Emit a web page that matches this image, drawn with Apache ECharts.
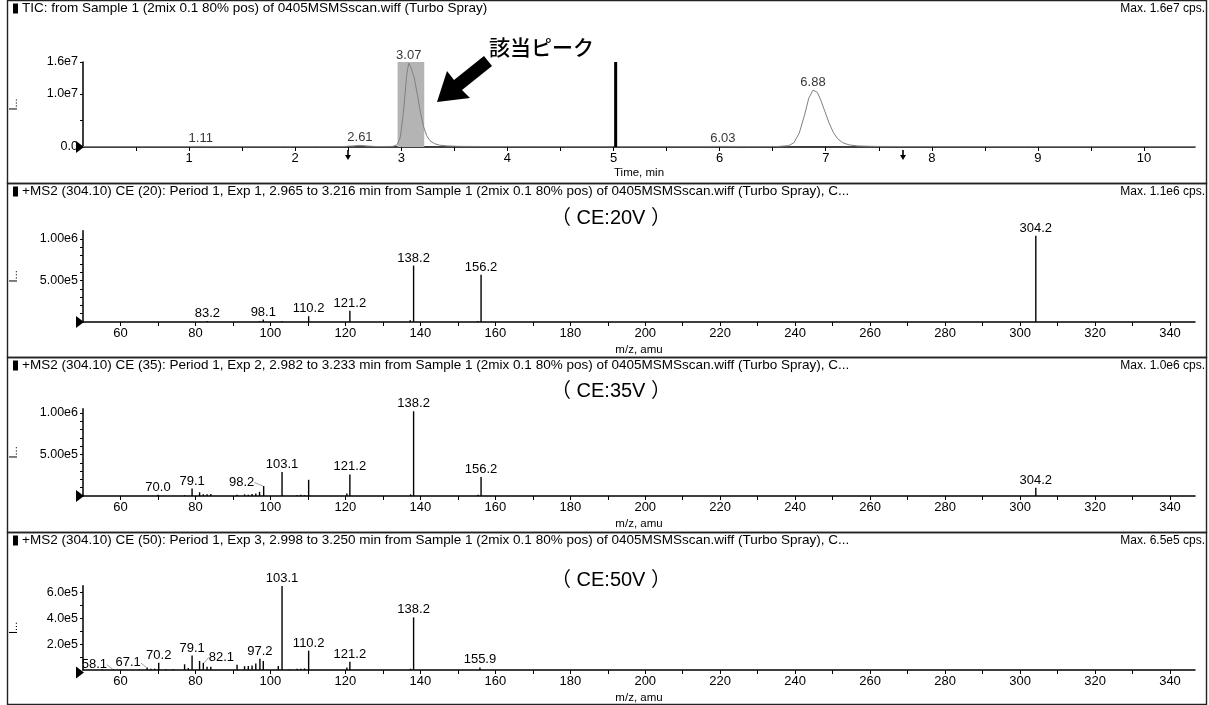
<!DOCTYPE html>
<html lang="ja">
<head>
<meta charset="UTF-8">
<title>TIC / MS2 spectra</title>
<script src="https://cdn.jsdelivr.net/npm/echarts@6/dist/echarts.min.js"></script>
<style>
  html, body { margin: 0; padding: 0; background: #fff; }
  #chart { width: 1209px; height: 705px; }
</style>
</head>
<body>
<div id="chart"></div>
<script>
// --- TIC trace (time in min, intensity in cps) ---
const ticTime = [0.00, 0.30, 0.60, 0.90, 1.11, 1.30, 1.60, 1.90, 2.20, 2.45, 2.55, 2.61, 2.67, 2.75, 2.85, 2.92,
  2.96, 2.99, 3.02, 3.05, 3.07, 3.09, 3.12, 3.15, 3.18, 3.21, 3.24, 3.27, 3.31, 3.36, 3.43, 3.55, 3.80,
  4.20, 4.60, 5.00, 5.40, 5.80, 6.03, 6.30, 6.55, 6.65, 6.70, 6.75, 6.80, 6.84, 6.88, 6.92, 6.95, 6.99,
  7.03, 7.07, 7.11, 7.16, 7.22, 7.30, 7.45, 7.80, 8.30, 8.90, 9.50, 10.10, 10.48];
const ticIntensity = [0.8e5, 0.9e5, 0.8e5, 0.9e5, 1.1e5, 0.9e5, 0.8e5, 0.9e5, 0.8e5, 0.9e5, 2.0e5, 3.2e5, 2.0e5, 1.0e5, 0.9e5, 1.2e5,
  4.0e5, 1.8e6, 6.5e6, 1.35e7, 1.58e7, 1.5e7, 1.32e7, 1.0e7, 6.5e6, 3.8e6, 2.1e6, 1.2e6, 6.5e5, 3.5e5, 2.0e5, 1.2e5, 0.9e5,
  0.8e5, 0.9e5, 0.8e5, 0.8e5, 0.9e5, 1.1e5, 0.9e5, 1.0e5, 2.5e5, 8.0e5, 2.6e6, 6.0e6, 9.2e6, 1.07e7, 1.03e7, 9.0e6, 6.8e6,
  4.6e6, 2.8e6, 1.6e6, 8.0e5, 4.0e5, 2.0e5, 1.1e5, 0.9e5, 0.8e5, 0.9e5, 0.8e5, 0.9e5, 0.8e5];
const ticPeakTimes = [1.11, 2.61, 3.07, 6.03, 6.88];
const ticPeakHeights = [1.1e5, 3.2e5, 1.58e7, 1.1e5, 1.07e7];
const selectedRange = [2.965, 3.216];
const markerTime = 5.02;
const ticMax = 1.6e7;

// --- MS2 spectra (m/z, intensity in cps) ---
const ce20Mz = [83.2, 97.1, 98.1, 103.1, 110.2, 121.2, 137.3, 138.2, 155.3, 156.2, 304.2];
const ce20Int = [1.2e4, 8e3, 3.0e4, 1.0e4, 7.0e4, 1.35e5, 2.0e4, 6.8e5, 1.2e4, 5.7e5, 1.04e6];
const ce20Labels = [83.2, 98.1, 110.2, 121.2, 138.2, 156.2, 304.2];

const ce35Mz = [70.0, 77.1, 79.1, 81.1, 82.1, 83.1, 84.1, 91.1, 93.1, 94.1, 95.1, 96.1, 97.1, 98.2, 103.1,
  107.1, 108.1, 109.1, 110.2, 120.4, 121.2, 137.4, 138.2, 155.4, 156.2, 304.2];
const ce35Int = [1.5e4, 8e3, 9.0e4, 4.5e4, 2.0e4, 2.0e4, 2.5e4, 1.5e4, 2.0e4, 1.5e4, 2.5e4, 3.0e4, 5.0e4, 1.2e5, 2.9e5,
  1.0e4, 1.5e4, 1.0e4, 1.95e5, 3.0e4, 2.6e5, 2.0e4, 1.02e6, 1.5e4, 2.3e5, 1.0e5];
const ce35Labels = [70.0, 79.1, 98.2, 103.1, 121.2, 138.2, 156.2, 304.2];

const ce50Mz = [55.1, 58.1, 65.1, 67.1, 68.1, 69.1, 70.2, 72.1, 74.1, 77.1, 78.1, 79.1, 81.1, 82.1, 83.1, 84.1,
  91.1, 93.1, 94.1, 95.1, 96.1, 97.2, 98.1, 102.1, 103.1, 105.1, 107.1, 108.1, 109.1, 110.2, 120.4, 121.2,
  137.4, 138.2, 155.9];
const ce50Int = [5e3, 6e3, 5e3, 2.0e4, 1.0e4, 1.0e4, 5.6e4, 5e3, 6e3, 4.4e4, 1.5e4, 1.11e5, 7.0e4, 5.5e4, 2.5e4, 2.5e4,
  4.0e4, 3.0e4, 3.0e4, 3.5e4, 5.0e4, 8.6e4, 7.0e4, 3.0e4, 6.49e5, 5e3, 1.0e4, 1.0e4, 1.2e4, 1.49e5, 2.0e4, 6.4e4,
  1.0e4, 4.06e5, 2.0e4];
const ce50Labels = [58.1, 67.1, 70.2, 79.1, 82.1, 97.2, 103.1, 110.2, 121.2, 138.2, 155.9];

const panelTitles = [
  'TIC: from Sample 1 (2mix 0.1 80% pos) of 0405MSMSscan.wiff (Turbo Spray)',
  '+MS2 (304.10) CE (20): Period 1, Exp 1, 2.965 to 3.216 min from Sample 1 (2mix 0.1 80% pos) of 0405MSMSscan.wiff (Turbo Spray), C...',
  '+MS2 (304.10) CE (35): Period 1, Exp 2, 2.982 to 3.233 min from Sample 1 (2mix 0.1 80% pos) of 0405MSMSscan.wiff (Turbo Spray), C...',
  '+MS2 (304.10) CE (50): Period 1, Exp 3, 2.998 to 3.250 min from Sample 1 (2mix 0.1 80% pos) of 0405MSMSscan.wiff (Turbo Spray), C...'
];
const panelMax = ['Max. 1.6e7 cps.', 'Max. 1.1e6 cps.', 'Max. 1.0e6 cps.', 'Max. 6.5e5 cps.'];
const ceNotes = ['（ CE:20V ）', '（ CE:35V ）', '（ CE:50V ）'];

const FONT = '"Liberation Sans", Arial, sans-serif';
const panelTop = [0.5, 183.5, 357.5, 532.5, 704.5];
const axisY = [147, 322, 496, 672.5];

function range(a, b, step) {
  const out = [];
  for (let v = a; v <= b + 1e-9; v += step) out.push(+v.toFixed(6));
  return out;
}

const grids = [
  { left: 82, top: 62, width: 1113, height: 85 },
  { left: 82.5, top: 230.7, width: 1112.5, height: 91.3 },
  { left: 82.5, top: 408.8, width: 1112.5, height: 87.2 },
  { left: 82.5, top: 585.8, width: 1112.5, height: 86.7 }
];

const axisLineStyle = { show: true, lineStyle: { color: '#000', width: 1.5 } };
const tickStyle = { lineStyle: { color: '#000', width: 1 } };

const xAxes = [
  {
    type: 'value', gridIndex: 0, min: 0, max: 10.48,
    name: 'Time, min', nameLocation: 'middle', nameGap: 20,
    nameTextStyle: { fontFamily: FONT, fontSize: 11.5, color: '#000' },
    axisLine: axisLineStyle,
    axisTick: Object.assign({ length: 4, customValues: range(0.5, 10.5, 0.5) }, tickStyle),
    axisLabel: { customValues: range(1, 10, 1), fontFamily: FONT, fontSize: 13, color: '#000', margin: 5 },
    splitLine: { show: false }
  }
];
for (let i = 1; i <= 3; i++) {
  xAxes.push({
    type: 'value', gridIndex: i, min: 50, max: 346.67,
    name: 'm/z, amu', nameLocation: 'middle', nameGap: 22,
    nameTextStyle: { fontFamily: FONT, fontSize: 11.5, color: '#000' },
    axisLine: axisLineStyle,
    axisTick: Object.assign({ length: 4, customValues: range(60, 340, 10) }, tickStyle),
    axisLabel: { customValues: range(60, 340, 20), fontFamily: FONT, fontSize: 13, color: '#000', margin: 5 },
    splitLine: { show: false }
  });
}

function yAxis(idx, max, labels, ticks, fmt) {
  return {
    type: 'value', gridIndex: idx, min: 0, max: max,
    name: 'I...', nameLocation: 'middle', nameGap: 64, nameRotate: 90,
    nameTextStyle: { fontFamily: FONT, fontSize: 11, color: '#000' },
    axisLine: axisLineStyle,
    axisTick: Object.assign({ length: 3, customValues: ticks }, tickStyle),
    axisLabel: { customValues: labels, formatter: fmt, fontFamily: FONT, fontSize: 12.5, color: '#000', margin: 5 },
    splitLine: { show: false }
  };
}
const expFmt = d => v => v.toExponential(d).replace('e+', 'e');
const yAxes = [
  yAxis(0, ticMax, [0, 1e7, 1.6e7], [0, 5e6, 1e7, 1.6e7], v => v === 0 ? '0.0' : (v / 1e7).toFixed(1) + 'e7'),
  yAxis(1, 1.1e6, [5e5, 1e6], range(1e5, 1e6, 1e5), expFmt(2)),
  yAxis(2, 1.05e6, [5e5, 1e6], range(1e5, 1e6, 1e5), expFmt(2)),
  yAxis(3, 6.5e5, [2e5, 4e5, 6e5], range(1e5, 6e5, 1e5), expFmt(1))
];

// label displacement for crowded peaks (dx, dy), drawn with a leader line
const ce35Offsets = { 98.2: [-22, 4] };
const ce50Offsets = { 58.1: [-19, 3], 67.1: [-19, 3], 82.1: [18, 2] };

function spectrumSeries(idx, mz, inten, labelled, offsets) {
  return {
    type: 'bar', xAxisIndex: idx, yAxisIndex: idx, barWidth: 1.4, silent: true,
    itemStyle: { color: '#000' },
    data: mz.map((m, i) => {
      const item = { value: [m, inten[i]] };
      if (offsets[m]) item.labelLine = { show: true, lineStyle: { color: '#888', width: 0.8 } };
      return item;
    }),
    label: {
      show: true, position: 'top', distance: 1, fontFamily: FONT, fontSize: 13, color: '#000',
      formatter: p => labelled.includes(p.value[0]) ? p.value[0].toFixed(1) : ''
    },
    labelLayout: p => {
      const o = offsets[mz[p.dataIndex]];
      return o ? { dx: o[0], dy: o[1] } : {};
    }
  };
}

const series = [
  {
    type: 'line', xAxisIndex: 0, yAxisIndex: 0, showSymbol: false, silent: true,
    data: ticTime.map((t, i) => [t, ticIntensity[i]]),
    lineStyle: { color: '#808080', width: 1 },
    markArea: {
      silent: true,
      itemStyle: { color: '#b4b4b4', opacity: 1 },
      data: [[{ xAxis: selectedRange[0] }, { xAxis: selectedRange[1] }]]
    },
    z: 3
  },
  {
    type: 'line', xAxisIndex: 0, yAxisIndex: 0, showSymbol: false, silent: true,
    data: [[markerTime, 0], [markerTime, ticMax]],
    lineStyle: { color: '#000', width: 3 }
  },
  {
    type: 'scatter', xAxisIndex: 0, yAxisIndex: 0, symbolSize: 0, silent: true,
    data: ticPeakTimes.map((t, i) => [t, ticPeakHeights[i]]),
    label: {
      show: true, position: 'top', distance: 1, fontFamily: FONT, fontSize: 13, color: '#000',
      formatter: p => p.value[0].toFixed(2)
    }
  },
  spectrumSeries(1, ce20Mz, ce20Int, ce20Labels, {}),
  spectrumSeries(2, ce35Mz, ce35Int, ce35Labels, ce35Offsets),
  spectrumSeries(3, ce50Mz, ce50Int, ce50Labels, ce50Offsets)
];

// frames, header squares, axis-origin triangles and notes
const graphic = [];
for (let i = 0; i < 4; i++) {
  const top = panelTop[i];
  graphic.push({
    type: 'rect', shape: { x: 7.5, y: top, width: 1199, height: panelTop[i + 1] - top },
    style: { fill: 'none', stroke: '#222', lineWidth: 1.4 }, silent: true
  });
  graphic.push({ type: 'rect', shape: { x: 13, y: top + 3, width: 5, height: 10 }, style: { fill: '#000' } });
  graphic.push({
    type: 'text', x: 22, y: top + 8,
    style: { text: panelTitles[i], font: '13.5px ' + FONT, fill: '#000', verticalAlign: 'middle' }
  });
  graphic.push({
    type: 'text', x: 1205, y: top + 8,
    style: { text: panelMax[i], font: '12px ' + FONT, fill: '#000', align: 'right', verticalAlign: 'middle' }
  });
  graphic.push({
    type: 'polygon',
    shape: { points: [[76, axisY[i] - 6], [84, axisY[i]], [76, axisY[i] + 6]] },
    style: { fill: '#000' }
  });
  if (i > 0) {
    graphic.push({
      type: 'text', x: 611, y: [0, 218, 391, 580][i],
      style: {
        text: ceNotes[i - 1], font: '20px "Liberation Sans", "Noto Sans CJK JP", sans-serif',
        fill: '#000', align: 'center', verticalAlign: 'middle'
      }
    });
  }
}
// small down arrows under the TIC axis
[348, 903].forEach(x => {
  graphic.push({ type: 'rect', shape: { x: x - 0.8, y: 150, width: 1.6, height: 6 }, style: { fill: '#000' } });
  graphic.push({ type: 'polygon', shape: { points: [[x - 3, 155], [x + 3, 155], [x, 160]] }, style: { fill: '#000' } });
});
// annotation: 該当ピーク with a bold arrow pointing at the selected peak
graphic.push({
  type: 'text', x: 489, y: 47,
  style: { text: '該当ピーク', font: '500 21px "Noto Sans CJK JP", sans-serif', fill: '#000', verticalAlign: 'middle' }
});
graphic.push({
  type: 'polygon',
  shape: { points: [[437, 102], [470, 98], [462, 90], [492, 66], [484, 56], [454, 80], [447, 71]] },
  style: { fill: '#000' }
});

const chart = echarts.init(document.getElementById('chart'));
chart.setOption({
  animation: false,
  backgroundColor: '#fff',
  grid: grids,
  xAxis: xAxes,
  yAxis: yAxes,
  series: series,
  graphic: graphic
});
</script>
</body>
</html>
